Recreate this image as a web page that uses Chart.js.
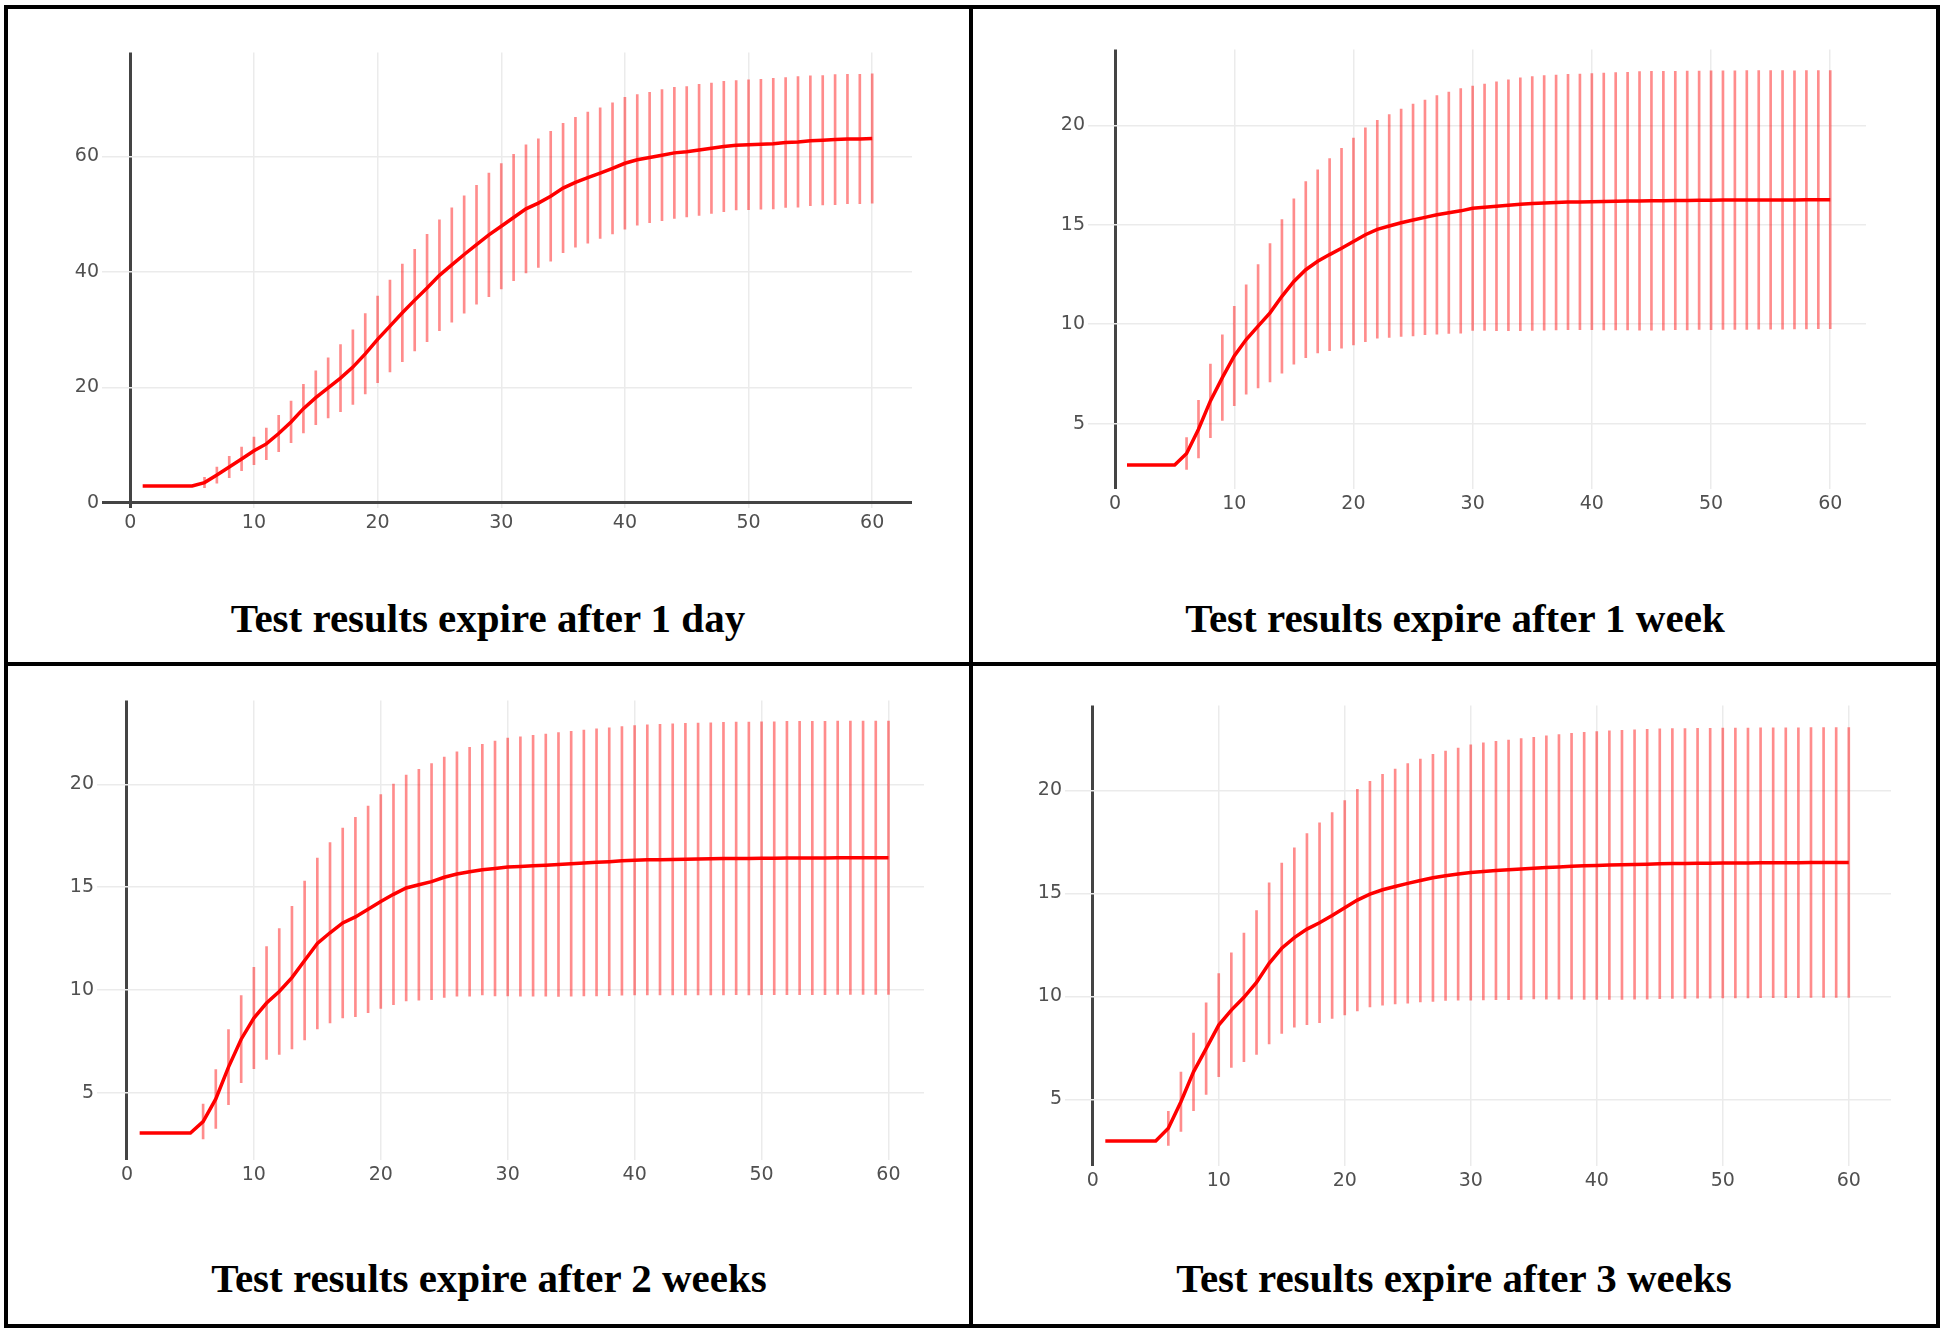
<!DOCTYPE html>
<html>
<head>
<meta charset="utf-8">
<title>Test results expiry</title>
<script src="https://cdn.jsdelivr.net/npm/chart.js@4.4.1/dist/chart.umd.min.js"></script>
<style>
  body { margin: 0; background: #fff; width: 1946px; height: 1332px; position: relative; overflow: hidden; }
  .frame { position: absolute; left: 4px; top: 5px; width: 1928px; height: 1315px; border: 4px solid #000; }
  .vline { position: absolute; left: 969px; top: 5px; width: 4px; height: 1323px; background: #000; }
  .hline { position: absolute; left: 4px; top: 662px; width: 1936px; height: 4px; background: #000; }
  canvas { position: absolute; }
  .title {
    position: absolute; width: 900px; text-align: center; color: #000;
    font-family: "Liberation Serif", "Times New Roman", serif; font-weight: bold;
    font-size: 41px; line-height: 41px; white-space: nowrap;
  }
</style>
</head>
<body>
<div class="frame"></div>
<div class="vline"></div>
<div class="hline"></div>

<div class="title" style="left:38px; top:598px;">Test results expire after 1 day</div>
<div class="title" style="left:1005px; top:598px;">Test results expire after 1 week</div>
<div class="title" style="left:39px; top:1258px;">Test results expire after 2 weeks</div>
<div class="title" style="left:1004px; top:1258px;">Test results expire after 3 weeks</div>

<canvas id="day1"></canvas>
<canvas id="week1"></canvas>
<canvas id="week2"></canvas>
<canvas id="week3"></canvas>

<script>
// x values: days 1..60
const days = [];
for (let d = 1; d <= 60; d++) days.push(d);

// mean and spread
const meanDay1 = [
  2.9, 2.9, 2.9, 2.9, 2.9, 3.5, 4.8, 6.2, 7.6, 9.0,
  10.2, 12.0, 14.0, 16.3, 18.2, 19.9, 21.6, 23.5, 25.8, 28.3,
  30.6, 32.9, 35.1, 37.2, 39.4, 41.2, 43.0, 44.7, 46.4, 47.9,
  49.4, 50.9, 51.9, 53.1, 54.5, 55.5, 56.3, 57.1, 57.9, 58.8,
  59.4, 59.8, 60.2, 60.6, 60.8, 61.1, 61.4, 61.7, 61.9, 62.0,
  62.1, 62.2, 62.4, 62.5, 62.7, 62.8, 62.9, 63.0, 63.0, 63.1
];
const sdDay1 = [
  0, 0, 0, 0, 0, 0.9, 1.4, 1.85, 2.05, 2.4,
  2.75, 3.15, 3.6, 4.2, 4.65, 5.2, 5.8, 6.45, 6.95, 7.5,
  7.95, 8.45, 8.8, 9.3, 9.6, 9.9, 10.15, 10.3, 10.7, 10.85,
  10.95, 11.1, 11.15, 11.25, 11.2, 11.25, 11.35, 11.3, 11.35, 11.4,
  11.3, 11.3, 11.35, 11.35, 11.3, 11.35, 11.3, 11.3, 11.2, 11.25,
  11.25, 11.3, 11.25, 11.3, 11.25, 11.2, 11.25, 11.2, 11.2, 11.2
];

const meanWeek1 = [
  2.92, 2.92, 2.92, 2.92, 2.92, 3.5, 4.72, 6.14, 7.31, 8.4,
  9.23, 9.9, 10.57, 11.4, 12.15, 12.74, 13.16, 13.5, 13.82, 14.16,
  14.5, 14.77, 14.94, 15.1, 15.24, 15.37, 15.5, 15.6, 15.7, 15.83,
  15.88, 15.93, 15.98, 16.03, 16.07, 16.1, 16.12, 16.14, 16.15, 16.16,
  16.17, 16.18, 16.19, 16.2, 16.21, 16.21, 16.22, 16.22, 16.23, 16.23,
  16.24, 16.24, 16.24, 16.25, 16.25, 16.25, 16.25, 16.26, 16.26, 16.26
];
const sdWeek1 = [
  0, 0, 0, 0, 0, 0.8, 1.45, 1.85, 2.15, 2.5,
  2.75, 3.1, 3.48, 3.86, 4.16, 4.43, 4.6, 4.83, 5.03, 5.2,
  5.38, 5.48, 5.6, 5.72, 5.83, 5.9, 6.0, 6.07, 6.15, 6.15,
  6.2, 6.26, 6.31, 6.36, 6.38, 6.4, 6.41, 6.42, 6.43, 6.44,
  6.46, 6.47, 6.48, 6.5, 6.51, 6.51, 6.5, 6.51, 6.5, 6.51,
  6.5, 6.5, 6.51, 6.5, 6.5, 6.5, 6.49, 6.5, 6.49, 6.49
];

const meanWeek2 = [
  3.03, 3.03, 3.03, 3.03, 3.03, 3.59, 4.69, 6.24, 7.6, 8.63,
  9.36, 9.92, 10.6, 11.43, 12.26, 12.78, 13.26, 13.55, 13.92, 14.3,
  14.65, 14.96, 15.12, 15.27, 15.48, 15.64, 15.75, 15.85, 15.91, 15.98,
  16.01, 16.04, 16.07, 16.1, 16.14, 16.18, 16.21, 16.24, 16.28, 16.31,
  16.33, 16.34, 16.35, 16.36, 16.37, 16.38, 16.39, 16.4, 16.4, 16.41,
  16.41, 16.42, 16.42, 16.42, 16.42, 16.43, 16.43, 16.43, 16.43, 16.43
];
const sdWeek2 = [
  0, 0, 0, 0, 0, 0.85, 1.43, 1.83, 2.12, 2.47,
  2.75, 3.06, 3.47, 3.87, 4.16, 4.39, 4.62, 4.85, 5.03, 5.2,
  5.37, 5.5, 5.62, 5.75, 5.85, 5.95, 6.05, 6.1, 6.2, 6.27,
  6.31, 6.35, 6.38, 6.42, 6.45, 6.47, 6.5, 6.52, 6.54, 6.55,
  6.57, 6.58, 6.6, 6.61, 6.62, 6.62, 6.63, 6.63, 6.64, 6.64,
  6.64, 6.65, 6.65, 6.65, 6.65, 6.65, 6.65, 6.65, 6.65, 6.65
];

const meanWeek3 = [
  2.98, 2.98, 2.98, 2.98, 2.98, 3.6, 4.89, 6.34, 7.47, 8.61,
  9.34, 9.96, 10.68, 11.61, 12.34, 12.86, 13.27, 13.58, 13.93, 14.31,
  14.68, 14.97, 15.18, 15.34, 15.49, 15.63, 15.76, 15.86, 15.94, 16.02,
  16.07, 16.11, 16.15, 16.19, 16.23, 16.26, 16.29, 16.32, 16.34, 16.36,
  16.38, 16.39, 16.41, 16.42, 16.44, 16.45, 16.46, 16.47, 16.47, 16.48,
  16.48, 16.48, 16.49, 16.49, 16.49, 16.49, 16.5, 16.5, 16.5, 16.5
];
const sdWeek3 = [
  0, 0, 0, 0, 0, 0.83, 1.44, 1.88, 2.22, 2.5,
  2.78, 3.12, 3.49, 3.91, 4.13, 4.35, 4.64, 4.85, 5.0, 5.2,
  5.38, 5.48, 5.6, 5.7, 5.82, 5.9, 6.0, 6.05, 6.12, 6.2,
  6.24, 6.27, 6.3, 6.33, 6.35, 6.39, 6.42, 6.45, 6.48, 6.5,
  6.52, 6.53, 6.54, 6.55, 6.55, 6.55, 6.55, 6.55, 6.55, 6.55,
  6.55, 6.55, 6.55, 6.55, 6.55, 6.55, 6.55, 6.55, 6.55, 6.55
];

// where each plot area sits on the page, and the axis ranges
const panels = [
  { id: 'day1',  mean: meanDay1,  sd: sdDay1,  left: 102,  right: 912,  top: 50,  bottom: 508,  xMin: -2.29, xMax: 63.22, yMin: -0.9, yMax: 78.0,  yStep: 20 },
  { id: 'week1', mean: meanWeek1, sd: sdWeek1, left: 1088, right: 1866, top: 47,  bottom: 489,  xMin: -2.27, xMax: 63.0,  yMin: 1.71, yMax: 23.82, yStep: 5 },
  { id: 'week2', mean: meanWeek2, sd: sdWeek2, left: 97,   right: 924,  top: 698, bottom: 1160, xMin: -2.36, xMax: 62.8,  yMin: 1.72, yMax: 24.09, yStep: 5 },
  { id: 'week3', mean: meanWeek3, sd: sdWeek3, left: 1065, right: 1891, top: 703, bottom: 1166, xMin: -2.2,  xMax: 63.35, yMin: 1.77, yMax: 24.13, yStep: 5 }
];

const AXIS_W = 70;
const AXIS_H = 40;
const PAD = 12;
const tickFont = { family: '"DejaVu Sans", Verdana, sans-serif', size: 19 };

function zeroColor(ctx) {
  return ctx.tick && ctx.tick.value === 0 ? '#444' : '#ebebeb';
}
function zeroWidth(ctx) {
  return ctx.tick && ctx.tick.value === 0 ? 3 : 1.5;
}

function createPanel(p) {
  const canvas = document.getElementById(p.id);
  const w = p.right - p.left + AXIS_W + PAD;
  const h = p.bottom - p.top + AXIS_H + PAD;
  canvas.width = w;
  canvas.height = h;
  canvas.style.width = w + 'px';
  canvas.style.height = h + 'px';
  canvas.style.left = (p.left - AXIS_W) + 'px';
  canvas.style.top = (p.top - PAD) + 'px';

  const line = days.map((d, i) => ({ x: d, y: p.mean[i] }));
  const bars = [];
  days.forEach((d, i) => {
    if (p.sd[i] > 0) bars.push({ x: d, y: [p.mean[i] - p.sd[i], p.mean[i] + p.sd[i]] });
  });

  new Chart(canvas.getContext('2d'), {
    type: 'bar',
    data: {
      datasets: [
        {
          type: 'line',
          data: line,
          borderColor: '#ff0000',
          borderWidth: 3.5,
          pointRadius: 0,
          tension: 0,
          order: 0
        },
        {
          type: 'bar',
          data: bars,
          backgroundColor: 'rgba(255, 0, 0, 0.45)',
          borderWidth: 0,
          barThickness: 2,
          grouped: false,
          order: 1
        }
      ]
    },
    options: {
      responsive: false,
      animation: false,
      devicePixelRatio: 1,
      layout: { padding: { top: PAD, right: PAD, left: 0, bottom: 0 } },
      plugins: { legend: { display: false }, tooltip: { enabled: false } },
      scales: {
        x: {
          type: 'linear',
          min: p.xMin,
          max: p.xMax,
          offset: false,
          afterFit: (scale) => { scale.height = AXIS_H; },
          ticks: { stepSize: 10, includeBounds: false, color: '#505050', font: tickFont, padding: 4, maxRotation: 0, autoSkip: false },
          grid: { offset: false, drawTicks: false, color: zeroColor, lineWidth: zeroWidth },
          border: { display: false }
        },
        y: {
          type: 'linear',
          min: p.yMin,
          max: p.yMax,
          afterFit: (scale) => { scale.width = AXIS_W; },
          ticks: { stepSize: p.yStep, includeBounds: false, color: '#505050', font: tickFont, padding: 3 },
          grid: { offset: false, drawTicks: false, color: zeroColor, lineWidth: zeroWidth },
          border: { display: false }
        }
      }
    }
  });
}

panels.forEach(createPanel);
</script>
</body>
</html>
